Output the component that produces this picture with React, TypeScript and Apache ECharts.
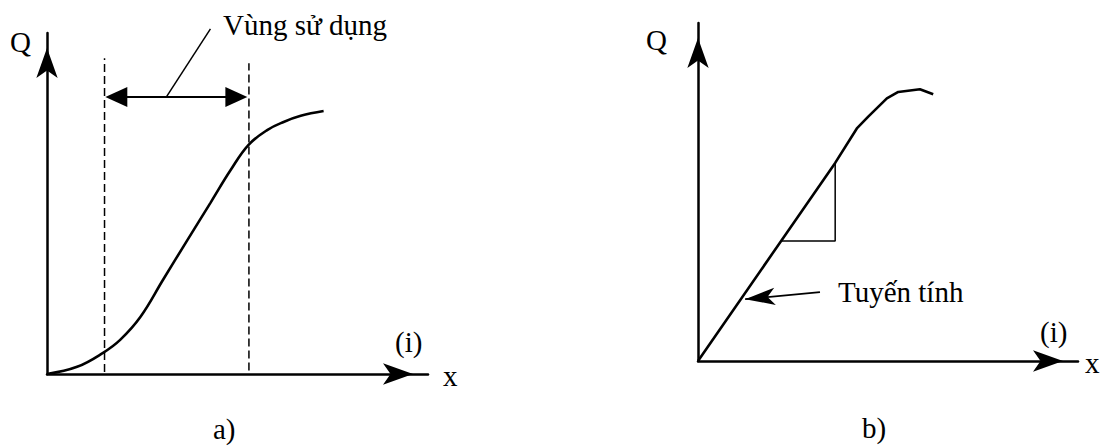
import React, { useEffect, useRef } from "react";
import * as echarts from "echarts";

// Panel a) — S-shaped response curve (x: 0..100, Q: 0..100)
const curveA: number[][] = [
  [0, 0], [7.9, 2.1], [14.7, 6.2], [19.2, 10.0], [24.5, 16.7], [30.5, 27.7],
  [36.8, 39.2], [42.9, 50.2], [48.2, 59.8], [52.9, 67.2], [57.9, 71.6],
  [62.1, 73.9], [66.6, 75.7], [72.6, 77.1],
];
const boundLeftA: number[][] = [[15.1, 0.6], [15.1, 92.6]];
const boundRightA: number[][] = [[53.0, 1.0], [53.0, 91.1]];
const rangeArrowA: number[][] = [[18.2, 81.2], [49.7, 81.2]];
const leaderA: number[][] = [[31.3, 81.2], [42.9, 101.2]];

// Panel b) — linear response curve
const curveB: number[][] = [
  [0, 0], [36.1, 58.6], [41.8, 68.8], [44.8, 72.3], [49.7, 77.7],
  [52.7, 79.6], [58.4, 80.4], [61.9, 78.9],
];
const slopeTriangleB: number[][] = [[22.1, 35.5], [36.1, 35.5], [36.1, 58.6]];
const pointerB: number[][] = [[32.1, 20.4], [12.4, 18.3]];

const labels = {
  q: "Q",
  i: "(i)",
  x: "x",
  a: "a)",
  b: "b)",
  zone: "Vùng sử dụng",
  linear: "Tuyến tính",
};

const FONT = "'Liberation Serif', 'DejaVu Serif', serif";

function axisCommon(symbolSize: number[], offset: number) {
  return {
    type: "value" as const,
    min: 0,
    max: 100,
    axisLine: {
      show: true,
      symbol: ["none", "arrow"],
      symbolSize,
      symbolOffset: [0, offset],
      lineStyle: { color: "#000", width: 2.5 },
    },
    axisTick: { show: false },
    axisLabel: { show: false },
    splitLine: { show: false },
  };
}

function txt(text: string, x: number, y: number) {
  return {
    type: "text",
    x,
    y,
    style: {
      text,
      fill: "#000",
      font: `29px ${FONT}`,
      fontFamily: FONT,
      fontSize: 29,
      textAlign: "left",
      textVerticalAlign: "middle",
    },
    silent: true,
  };
}

export default function App() {
  const ref = useRef<HTMLDivElement>(null);
  useEffect(() => {
    if (!ref.current) return;
    const chart = echarts.init(ref.current, undefined, { renderer: "svg" });
    const black = "#000";
    const lineBase = {
      type: "line" as const,
      symbol: "none",
      silent: true,
      clip: false,
      animation: false,
    };
    chart.setOption({
      animation: false,
      backgroundColor: "#fff",
      grid: [
        { left: 47, top: 33, width: 381, height: 341 },
        { left: 698, top: 23, width: 380, height: 338 },
      ],
      xAxis: [
        { ...axisCommon([16, 30], -15), gridIndex: 0 },
        { ...axisCommon([16, 30], -15), gridIndex: 1 },
      ],
      yAxis: [
        { ...axisCommon([16, 30], -15), gridIndex: 0 },
        { ...axisCommon([16, 30], -15), gridIndex: 1 },
      ],
      series: [
        {
          ...lineBase,
          name: "curveA",
          xAxisIndex: 0,
          yAxisIndex: 0,
          data: curveA,
          smooth: 0.4,
          lineStyle: { color: black, width: 2.6 },
        },
        {
          ...lineBase,
          name: "boundLeftA",
          xAxisIndex: 0,
          yAxisIndex: 0,
          data: boundLeftA,
          lineStyle: { color: black, width: 1.5, type: [8, 4] },
        },
        {
          ...lineBase,
          name: "boundRightA",
          xAxisIndex: 0,
          yAxisIndex: 0,
          data: boundRightA,
          lineStyle: { color: black, width: 1.5, type: [8, 4] },
        },
        {
          ...lineBase,
          name: "leaderA",
          xAxisIndex: 0,
          yAxisIndex: 0,
          data: leaderA,
          lineStyle: { color: black, width: 1.5 },
          markLine: {
            silent: true,
            symbol: ["triangle", "triangle"],
            symbolSize: [20, 22],
            label: { show: false },
            lineStyle: { color: black, width: 2.2, type: "solid" },
            emphasis: { disabled: true },
            data: [[{ coord: rangeArrowA[0] }, { coord: rangeArrowA[1] }]],
          },
        },
        {
          ...lineBase,
          name: "curveB",
          xAxisIndex: 1,
          yAxisIndex: 1,
          data: curveB,
          lineStyle: { color: black, width: 2.6, join: "round" },
        },
        {
          ...lineBase,
          name: "slopeB",
          xAxisIndex: 1,
          yAxisIndex: 1,
          data: slopeTriangleB,
          lineStyle: { color: black, width: 1.5 },
          markLine: {
            silent: true,
            symbol: ["none", "arrow"],
            symbolSize: [13, 30],
            label: { show: false },
            lineStyle: { color: black, width: 1.8, type: "solid" },
            emphasis: { disabled: true },
            data: [[{ coord: pointerB[0] }, { coord: pointerB[1] }]],
          },
        },
      ],
      graphic: [
        txt(labels.q, 10, 42),
        txt(labels.zone, 223, 25),
        txt(labels.i, 395, 342),
        txt(labels.x, 443, 376),
        txt(labels.a, 213, 429),
        txt(labels.q, 646, 40),
        txt(labels.linear, 838, 292),
        txt(labels.i, 1040, 332),
        txt(labels.x, 1085, 363),
        txt(labels.b, 862, 428),
      ],
    });
    return () => chart.dispose();
  }, []);
  return (
    <div
      ref={ref}
      style={{ position: "absolute", left: 0, top: 0, width: 1100, height: 446 }}
    />
  );
}
